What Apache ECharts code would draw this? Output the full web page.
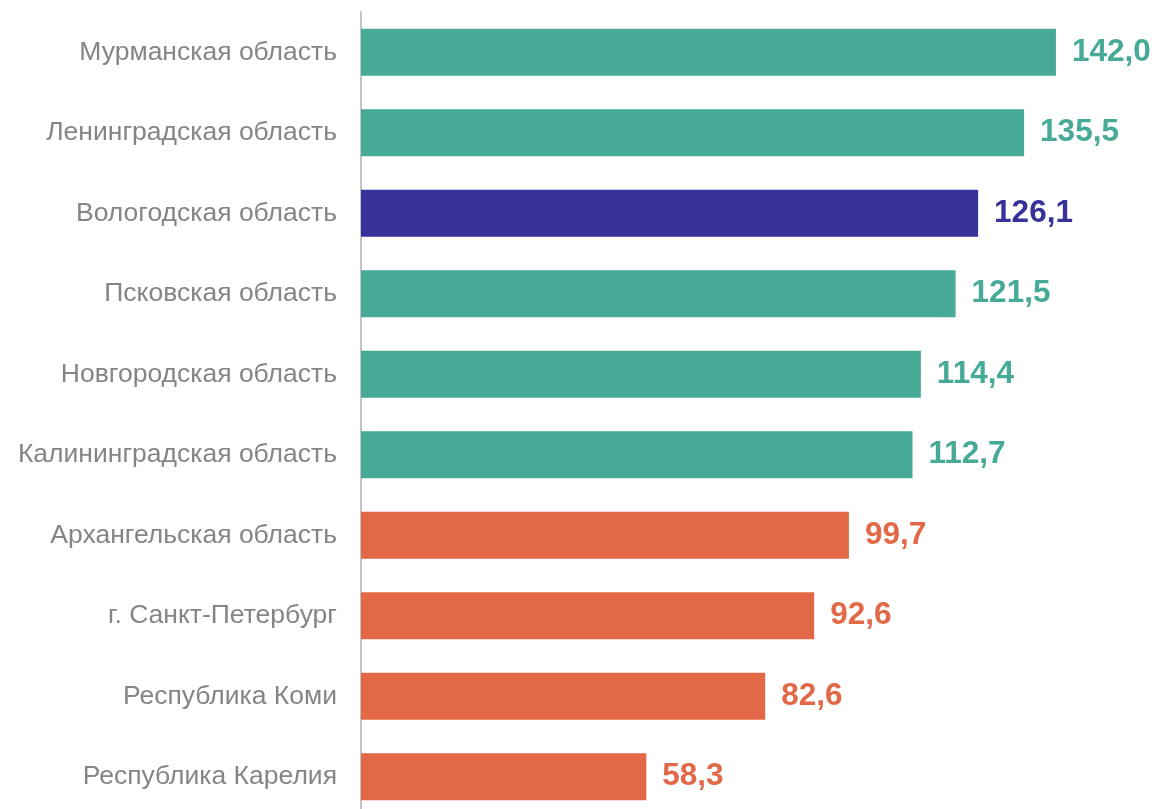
<!DOCTYPE html>
<html>
<head>
<meta charset="utf-8">
<script src="https://cdn.jsdelivr.net/npm/echarts@6/dist/echarts.min.js"></script>
<style>html,body{margin:0;padding:0;background:#fff;overflow:hidden;}#c{width:1156px;height:817px;}</style>
</head>
<body>
<div id="c"></div>
<script>
const categories = ['Мурманская область','Ленинградская область','Вологодская область','Псковская область','Новгородская область','Калининградская область','Архангельская область','г. Санкт-Петербург','Республика Коми','Республика Карелия'];
const values = [142.0,135.5,126.1,121.5,114.4,112.7,99.7,92.6,82.6,58.3];
const highlight = 'Вологодская область';

const TEAL = '#46AA97', NAVY = '#37319A', ORANGE = '#E26847';
const FONT = "'Liberation Sans', Arial, sans-serif";
function colorFor(i){
  if (categories[i] === highlight) return NAVY;
  return values[i] >= 100 ? TEAL : ORANGE;
}
const chart = echarts.init(document.getElementById('c'));
chart.setOption({
  animation:false,
  grid:{left:361, top:12, width:783, bottom:0, containLabel:false},
  xAxis:{type:'value', min:0, max:160, show:false},
  yAxis:{type:'category', data:categories, inverse:true,
    axisLine:{show:true, lineStyle:{color:'#C4C4C4', width:2}},
    axisTick:{show:false},
    axisLabel:{color:'#858585', fontSize:26.5, fontFamily:FONT, margin:24}
  },
  series:[{
    type:'bar', barWidth:47,
    data: values.map((v,i)=>({value:v, itemStyle:{color:colorFor(i)}, label:{color:colorFor(i)}})),
    label:{show:true, position:'right', distance:16, fontSize:31.5, fontWeight:'bold',
      fontFamily:FONT,
      formatter:p=>p.value.toFixed(1).replace('.',',')}
  }]
});
</script>
</body>
</html>
